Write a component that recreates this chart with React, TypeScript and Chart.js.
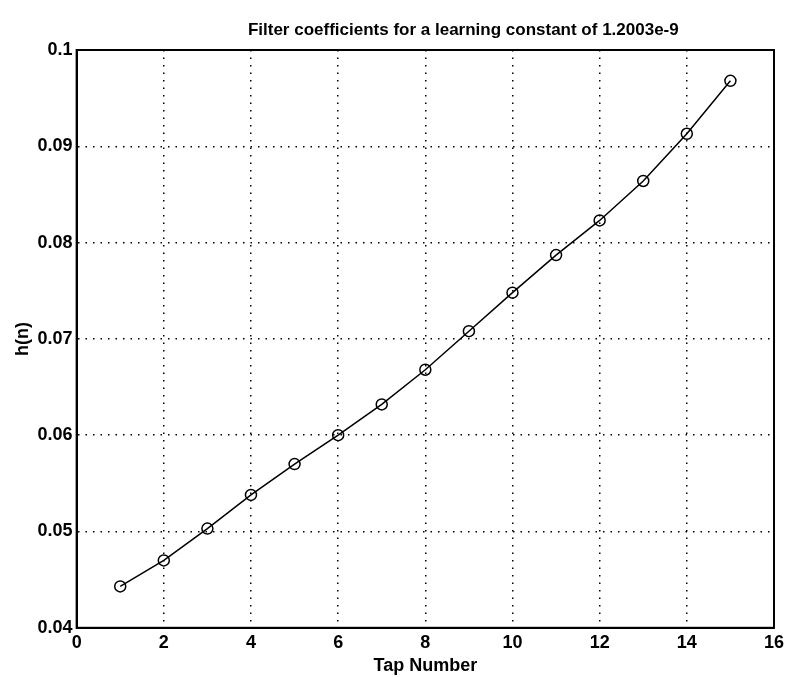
import React, { useEffect, useRef } from "react";
import { Chart, registerables } from "chart.js";

Chart.register(...registerables);

const tapNumbers = [1, 2, 3, 4, 5, 6, 7, 8, 9, 10, 11, 12, 13, 14, 15];
const coefficients = [
  0.0443, 0.047, 0.0503, 0.0538, 0.057, 0.06, 0.0632, 0.0668, 0.0708, 0.0748,
  0.0787, 0.0823, 0.0864, 0.0913, 0.0968,
];
const yTickLabels = ["0.04", "0.05", "0.06", "0.07", "0.08", "0.09", "0.1"];
const titleText = "Filter coefficients for a learning constant of 1.2003e-9";
const xTitle = "Tap Number";
const yTitle = "h(n)";

const FONT = "'Liberation Sans', Arial, sans-serif";

const boxPlugin = {
  id: "boxPlugin",
  afterDraw(chart: any) {
    const { ctx, chartArea } = chart;
    ctx.save();
    ctx.strokeStyle = "#000";
    ctx.lineWidth = 2;
    ctx.strokeRect(chartArea.left, chartArea.top, chartArea.right - chartArea.left, chartArea.bottom - chartArea.top);
    // title, drawn slightly right of centre as in the scan
    ctx.fillStyle = "#000";
    ctx.font = `bold 17px ${FONT}`;
    ctx.textAlign = "center";
    ctx.textBaseline = "middle";
    ctx.fillText(titleText, (chartArea.left + chartArea.right) / 2 + 38, 30);
    ctx.restore();
  },
};

export default function App() {
  const ref = useRef<HTMLCanvasElement | null>(null);
  useEffect(() => {
    if (!ref.current) return;
    const tickFont = { family: FONT, size: 18, weight: "bold" as const };
    const chart = new Chart(ref.current, {
      type: "line",
      data: {
        datasets: [
          {
            data: tapNumbers.map((x, i) => ({ x, y: coefficients[i] })),
            borderColor: "#000",
            borderWidth: 1.5,
            pointRadius: 5.5,
            pointBorderWidth: 1.5,
            pointBorderColor: "#000",
            pointBackgroundColor: "rgba(0,0,0,0)",
            tension: 0,
            fill: false,
          },
        ],
      },
      options: {
        animation: false,
        responsive: true,
        maintainAspectRatio: false,
        layout: { padding: { top: 50, right: 30, bottom: 0, left: 12 } },
        plugins: {
          legend: { display: false },
          tooltip: { enabled: false },
          title: { display: false },
        },
        scales: {
          x: {
            type: "linear",
            min: 0,
            max: 16,
            ticks: {
              stepSize: 2,
              color: "#000",
              font: tickFont,
              padding: 4,
            },
            grid: {
              color: "#000",
              lineWidth: 1.5,
              drawTicks: false,
            },
            border: { display: true, color: "#000", width: 2, dash: [1.5, 6] },
            title: {
              display: true,
              text: xTitle,
              color: "#000",
              font: tickFont,
              padding: { top: -2, bottom: 0 },
            },
          },
          y: {
            type: "linear",
            min: 0.04,
            max: 0.1,
            ticks: {
              stepSize: 0.01,
              color: "#000",
              font: tickFont,
              padding: 4,
              callback: (v: any) => {
                const idx = Math.round((Number(v) - 0.04) / 0.01);
                return yTickLabels[idx] ?? "";
              },
            },
            grid: {
              color: "#000",
              lineWidth: 1.5,
              drawTicks: false,
            },
            border: { display: true, color: "#000", width: 2, dash: [1.5, 6] },
            title: {
              display: true,
              text: yTitle,
              color: "#000",
              font: tickFont,
              padding: { top: 0, bottom: 0 },
            },
          },
        },
      },
      plugins: [boxPlugin],
    });
    return () => chart.destroy();
  }, []);
  return (
    <div style={{ position: "fixed", left: 0, top: 0, width: 804, height: 677, background: "#fff" }}>
      <canvas ref={ref} />
    </div>
  );
}
